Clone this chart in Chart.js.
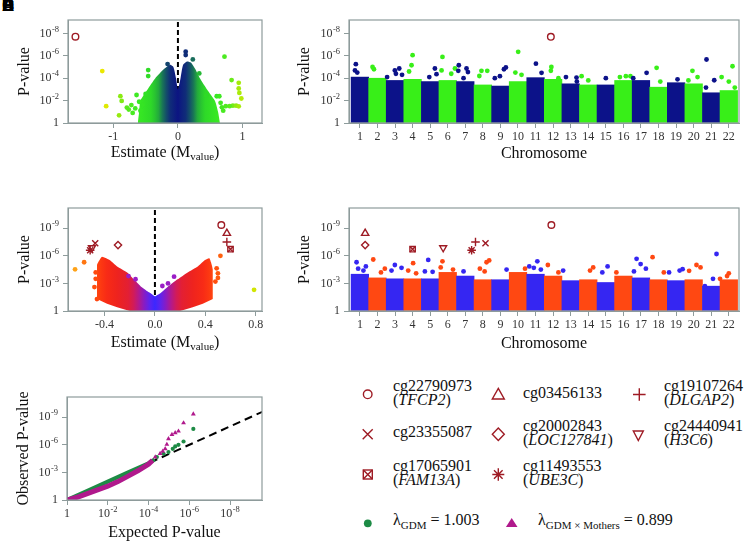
<!DOCTYPE html>
<html>
<head>
<meta charset="utf-8">
<title>GDM EWAS figure</title>
<script src="https://cdn.jsdelivr.net/npm/chart.js@4.4.1/dist/chart.umd.min.js"></script>
<style>
  html, body { margin:0; padding:0; background:#fff; }
  body { width:745px; height:542px; position:relative; overflow:hidden; font-family:"Liberation Serif","Times New Roman",serif; color:#111; }
  canvas { position:absolute; }
  .t { position:absolute; font-size:16px; line-height:14.5px; white-space:nowrap; color:#111; }
  .s { font-size:11px; position:relative; top:4px; }
  .tag { position:absolute; left:2px; top:-4px; font:bold 17px "Liberation Sans",Arial,sans-serif; color:#000; }
</style>
</head>
<body>
<div class="tag">A</div><div class="tag">B</div><div class="tag">C</div><div class="tag">D</div><div class="tag">E</div>
<canvas id="cA" width="275" height="175" style="left:0;top:0;width:275px;height:175px"></canvas>
<canvas id="cB" width="465" height="175" style="left:280px;top:0;width:465px;height:175px"></canvas>
<canvas id="cC" width="275" height="175" style="left:0;top:180px;width:275px;height:175px"></canvas>
<canvas id="cD" width="465" height="175" style="left:280px;top:180px;width:465px;height:175px"></canvas>
<canvas id="cE" width="275" height="182" style="left:0;top:360px;width:275px;height:182px"></canvas>

<svg style="position:absolute;left:290px;top:360px" width="455" height="182">
  <g stroke="#9e1b24" fill="none" stroke-width="1.4">
    <circle cx="77.7" cy="34.3" r="4.3"/>
    <polygon points="208.3,28.4 214.3,39 202.3,39"/>
    <path d="M343 34.5H355.6M349.3 28.2V40.8"/>
    <path d="M72.7 69.3L82.7 79.3M82.7 69.3L72.7 79.3"/>
    <polygon points="208.3,68 214.3,74.3 208.3,80.6 202.3,74.3"/>
    <polygon points="343.3,71 353.3,71 348.3,80.6"/>
    <rect x="73.3" y="110" width="9" height="9"/>
    <path d="M73.3 110L82.3 119M82.3 110L73.3 119"/>
    <path d="M202.3 114.5H214.3M208.3 108.3V120.7M204 110.2L212.6 118.8M212.6 110.2L204 118.8"/>
  </g>
  <circle cx="77.8" cy="163.3" r="3.9" fill="#1d8b45"/>
  <polygon points="221.7,158 227.5,167 215.9,167" fill="#b0198c"/>
</svg>

<div class="t" style="left:393px;top:378.7px">cg22790973<br>(<i>TFCP2</i>)</div>
<div class="t" style="left:523px;top:386.3px">cg03456133</div>
<div class="t" style="left:664px;top:378.7px">cg19107264<br>(<i>DLGAP2</i>)</div>
<div class="t" style="left:393px;top:425.3px">cg23355087</div>
<div class="t" style="left:523px;top:418.7px">cg20002843<br>(<i>LOC127841</i>)</div>
<div class="t" style="left:664px;top:418.7px">cg24440941<br>(<i>H3C6</i>)</div>
<div class="t" style="left:393px;top:458.7px">cg17065901<br>(<i>FAM13A</i>)</div>
<div class="t" style="left:523px;top:458.7px">cg11493553<br>(<i>UBE3C</i>)</div>
<div class="t" style="left:393px;top:513px">λ<span class="s">GDM</span> = 1.003</div>
<div class="t" style="left:538px;top:513px">λ<span class="s">GDM × Mothers</span> = 0.899</div>

<script>
// ================= DATA =================
// values on y are -log10(P)

// ---- Panel A: volcano, GDM
const aCloudEst  = [-0.62,-0.60,-0.58,-0.47,-0.35,-0.22,-0.12,-0.07,-0.03,0.00,0.04,0.08,0.14,0.20,0.27,0.34,0.45,0.57,0.62,0.65];
const aCloudLogP = [0.00,1.00,2.00,3.00,4.00,4.80,5.20,5.00,4.00,3.00,4.00,5.20,5.50,5.40,4.80,4.00,3.00,2.00,1.00,0.00];
const aOutEst  = [-1.17,-1.11,-0.89,-0.87,-0.79,-0.76,-0.91,-0.72,-0.70,-0.66,-0.64,-0.60,-0.58,-0.46,-0.46,-0.50,-0.55,-0.16,0.12,0.12,0.23,0.33,0.72,0.83,0.94,0.94,0.95,0.98,0.60,0.64,0.44,0.85,0.80,0.74,0.68,0.70,0.90,0.66,0.94];
const aOutLogP = [4.64,1.50,2.40,1.97,1.38,1.20,0.69,1.60,0.90,1.30,2.50,1.90,1.10,4.73,4.19,2.60,1.60,5.26,6.37,6.07,5.68,4.43,5.92,3.83,3.59,3.08,2.69,2.19,2.39,2.39,2.48,1.55,1.50,1.50,1.40,1.10,1.55,1.80,1.49];
const aHitEst  = [-1.585];
const aHitLogP = [7.71];

// ---- Panel B: Manhattan, GDM
const chromosomes = [1,2,3,4,5,6,7,8,9,10,11,12,13,14,15,16,17,18,19,20,21,22];
const bDenseTop = [4.1,4.0,3.8,3.9,3.7,3.8,3.7,3.4,3.3,3.7,4.05,3.9,3.5,3.4,3.4,3.8,3.8,3.2,3.6,3.5,2.7,2.9];
const bOutPos  = [0.77,0.72,0.85,1.72,1.80,2.55,2.99,3.24,3.05,3.40,4.00,3.94,3.80,5.27,5.36,4.95,5.70,5.65,6.41,6.20,6.63,6.60,7.07,7.15,6.90,7.92,8.25,7.80,8.68,8.97,9.20,9.31,10.01,9.85,10.20,11.02,11.34,11.90,11.87,12.30,12.73,13.33,13.35,13.62,14.00,15.00,15.80,16.14,16.40,16.56,17.32,17.89,18.10,19.08,19.93,20.22,19.70,20.73,20.70,21.17,21.59,22.21,22.00,22.34];
const bOutLogP = [5.25,4.70,4.50,5.00,4.80,4.10,4.70,4.87,4.40,4.30,6.06,5.16,4.60,4.87,4.36,4.10,5.90,4.70,4.87,4.40,5.16,4.66,4.87,4.55,4.00,4.66,4.66,4.20,4.00,4.18,4.80,4.96,6.36,4.50,4.30,5.30,4.48,5.00,4.66,4.00,4.10,4.06,3.70,4.18,3.80,4.00,4.10,4.18,4.18,4.00,4.48,4.93,3.70,3.90,4.66,4.10,3.80,5.67,3.16,3.82,4.10,5.07,3.70,3.16];
const bHitPos  = [11.87];
const bHitLogP = [7.70];

// ---- Panel C: volcano, GDM x Mothers (upper and lower edge of the dense cloud)
const cUpperEst  = [-0.46,-0.46,-0.45,-0.42,-0.354,-0.30,-0.22,-0.167,-0.114,-0.06,-0.02,0.00,0.046,0.10,0.18,0.26,0.34,0.392,0.432,0.445,0.46,0.46];
const cUpperLogP = [1.30,5.00,5.30,5.90,5.50,4.85,4.20,3.44,2.70,2.15,1.80,1.60,1.96,2.60,3.44,4.20,4.85,5.50,5.74,5.30,4.50,1.30];
const cLowerEst  = [-0.46,-0.38,-0.30,-0.20,0.20,0.30,0.38,0.46];
const cLowerLogP = [1.30,0.80,0.40,0.00,0.00,0.40,0.80,1.30];
const cOutEst  = [-0.634,-0.562,-0.21,-0.154,0.104,0.152,0.059,0.52,0.49,0.50,0.50,0.48,0.787,-0.47,-0.47,-0.48,-0.46];
const cOutLogP = [4.53,5.30,3.80,3.45,3.00,3.73,2.72,6.00,4.64,4.10,3.60,3.20,2.30,4.20,3.50,2.60,1.30];

// ---- Highlighted CpGs (panels C and D)
const hitNames = ['cg22790973','cg03456133','cg19107264','cg23355087','cg20002843','cg24440941','cg17065901','cg11493553'];
const hitEst   = [0.527, 0.571, 0.571, -0.474, -0.293, -0.500, 0.600, -0.514];
const hitPos   = [11.90, 1.30, 7.58, 8.15, 1.30, 5.74, 4.00, 7.36];
const hitLogP  = [9.35, 8.45, 7.50, 7.36, 7.17, 6.88, 6.72, 6.60];

// ---- Panel D: Manhattan, GDM x Mothers
const dDenseTop = [4.0,3.6,3.5,3.5,3.5,4.2,3.8,3.4,3.4,4.2,4.0,3.8,3.3,3.4,3.1,3.8,3.6,3.4,3.3,3.4,2.7,3.4];
const dOutPos  = [0.81,1.34,0.90,1.20,1.76,2.42,2.20,2.99,3.37,2.80,4.03,3.75,4.20,4.89,5.14,4.70,5.70,5.60,6.30,6.90,7.83,8.21,8.36,8.10,9.35,10.64,10.40,11.10,10.90,11.70,11.30,12.57,12.30,14.28,14.10,15.10,14.80,15.60,16.75,16.98,17.28,16.60,17.66,18.30,18.60,19.37,19.20,19.74,20.16,20.39,21.30,20.64,21.10,21.50,22.00,21.90];
const dOutLogP = [5.30,4.85,4.60,4.40,5.60,4.60,4.20,5.00,4.70,4.40,5.20,4.40,4.10,5.55,4.26,4.30,5.40,4.74,4.50,4.30,4.60,5.30,5.50,4.30,4.50,4.85,4.60,5.40,4.70,5.00,4.50,4.40,4.20,4.74,4.40,4.85,4.20,4.20,5.67,5.10,4.60,4.30,5.85,4.20,4.20,4.55,4.40,4.37,5.00,4.74,6.20,2.70,3.50,3.50,4.10,3.80];

// ---- Panel E: QQ plot (-log10 expected, -log10 observed)
const qqGdmExp     = [0,1,2,3,4,4.3];
const qqGdmObs     = [0,1,2,3,4,4.4];
const qqGdmTailExp = [4.41,4.74,4.98,5.19,5.31,5.47,5.72,6.20];
const qqGdmTailObs = [4.67,5.03,5.21,5.57,5.83,6.00,6.36,7.73];
const qqIntExp     = [0,0.5,1,1.5,2,2.5,3,3.5,4,4.2];
const qqIntObs     = [0,0.3,0.7,1.1,1.5,2.0,2.6,3.2,3.9,4.3];
const qqIntTailExp = [4.33,4.57,4.70,4.82,4.90,4.98,5.15,5.31,5.47,5.72,6.20];
const qqIntTailObs = [4.67,5.04,5.30,5.57,6.04,6.65,7.12,7.30,7.48,8.38,9.35];
const qqDiag       = [0, 9.6];

// ---- Tick values
const ticksLogAB  = [0,2,4,6,8];
const ticksLogCDE = [0,3,6,9];
const ticksEstA   = [-1,0,1];
const ticksEstC   = [-0.4,0,0.4,0.8];
const ticksExpE   = [0,2,4,6,8];

// ================= STYLE / HELPERS =================
const SERIF = '"Liberation Serif", "Times New Roman", serif';
const AXIS_GREY = '#8e9c9c';
const TICK_TEXT = '#333';
const HIT = '#9e1b24';
const NAVY = '#0c1289', LIME = '#38ef18', BLUE = '#3526f2', ORANGE = '#ff4812';
const QQ_GREEN = '#1d8b45', QQ_MAG = '#b0198c';

const pts = (xs, ys) => xs.map((x, i) => ({x, y: ys[i]}));
const rgb = c => `rgb(${c.map(Math.round).join(',')})`;
function cmap(stops) {
  return v => {
    const t = Math.abs(v);
    if (t <= stops[0][0]) return rgb(stops[0][1]);
    for (let i = 1; i < stops.length; i++) {
      if (t <= stops[i][0]) {
        const [p0, c0] = stops[i-1], [p1, c1] = stops[i];
        const f = (t - p0) / (p1 - p0);
        return rgb(c0.map((c, k) => c + (c1[k] - c) * f));
      }
    }
    return rgb(stops[stops.length-1][1]);
  };
}
const cmapA = cmap([[0,[12,20,130]],[0.12,[16,45,120]],[0.22,[22,100,95]],[0.30,[35,170,60]],[0.40,[45,215,40]],[0.60,[55,232,35]],[0.80,[90,235,30]],[0.95,[170,235,10]],[1.15,[235,232,0]]]);
const cmapC = cmap([[0,[60,40,255]],[0.05,[100,35,235]],[0.10,[150,25,180]],[0.15,[200,25,110]],[0.20,[225,30,55]],[0.30,[238,35,30]],[0.40,[250,45,20]],[0.46,[255,70,15]],[0.55,[255,110,15]],[0.63,[255,160,25]],[0.80,[205,235,0]]]);
// purple for the isolated points close to zero effect, otherwise the colour map
const cPointColour = (e, lp) => (Math.abs(e) < 0.25 && lp > 2.5) ? '#9a1ec6' : cmapC(e);

function gradientFill(map, span) {
  return c => {
    const ch = c.chart, xs = ch.scales.x;
    if (!ch.chartArea || !xs) return 'rgba(0,0,0,0)';
    const x0 = xs.getPixelForValue(-span), x1 = xs.getPixelForValue(span);
    const g = ch.ctx.createLinearGradient(x0, 0, x1, 0);
    for (let k = 0; k <= 40; k++) g.addColorStop(k / 40, map(-span + 2 * span * k / 40));
    return g;
  };
}

function drawSup(ctx, base, sup, x, y, align) {
  ctx.font = `12px ${SERIF}`; const wb = ctx.measureText(base).width;
  ctx.font = `8.5px ${SERIF}`; const ws = sup ? ctx.measureText(sup).width + 0.5 : 0;
  const w = wb + ws;
  const x0 = align === 'right' ? x - w : align === 'center' ? x - w / 2 : x;
  ctx.textAlign = 'left'; ctx.textBaseline = 'middle';
  ctx.font = `12px ${SERIF}`; ctx.fillText(base, x0, y);
  if (sup) { ctx.font = `8.5px ${SERIF}`; ctx.fillText(sup, x0 + wb + 0.5, y - 4); }
}
const lab = v => { const n = Math.round(v); return n === 0 ? ['1', ''] : ['10', '-' + n]; };

const expTicks = {
  id: 'expTicks',
  afterDraw(chart, args, opts) {
    const ctx = chart.ctx; ctx.save(); ctx.fillStyle = TICK_TEXT;
    if (opts && opts.y) {
      const s = chart.scales.y;
      s.ticks.forEach(t => { const [b, p] = lab(t.value); drawSup(ctx, b, p, s.right - 9, s.getPixelForValue(t.value), 'right'); });
    }
    if (opts && opts.x) {
      const s = chart.scales.x;
      s.ticks.forEach(t => { const [b, p] = lab(t.value); drawSup(ctx, b, p, s.getPixelForValue(t.value), chart.chartArea.bottom + 14, 'center'); });
    }
    ctx.restore();
  }
};
const frame = {
  id: 'frame',
  afterDatasetsDraw(chart) {
    const {ctx, chartArea: a} = chart;
    ctx.save(); ctx.strokeStyle = AXIS_GREY; ctx.lineWidth = 1.2;
    ctx.strokeRect(a.left, a.top, a.right - a.left, a.bottom - a.top);
    ctx.restore();
  }
};
const subTitle = {
  id: 'subTitle',
  afterDraw(chart, args, opts) {
    if (!opts || !opts.parts) return;
    const ctx = chart.ctx, a = chart.chartArea;
    ctx.save(); ctx.fillStyle = '#111'; ctx.textBaseline = 'middle'; ctx.textAlign = 'left';
    let w = 0;
    opts.parts.forEach(p => { ctx.font = `${p[1]}px ${SERIF}`; w += ctx.measureText(p[0]).width; });
    let x = (a.left + a.right) / 2 - w / 2;
    opts.parts.forEach(p => { ctx.font = `${p[1]}px ${SERIF}`; ctx.fillText(p[0], x, opts.y + p[2]); x += ctx.measureText(p[0]).width; });
    ctx.restore();
  }
};
Chart.register(expTicks, frame, subTitle);

function scales(o) {
  const grid = {display:true, drawOnChartArea:false, drawTicks:true, tickLength:5, color:AXIS_GREY, offset:false, lineWidth:1};
  const border = {display:true, color:AXIS_GREY, width:1};
  return {
    x: {
      type:'linear', position:'bottom', min:o.xmin, max:o.xmax, offset:false,
      afterBuildTicks: s => { s.ticks = o.xticks.map(v => ({value:v})); },
      ticks: {display:!o.xSup, font:{family:SERIF, size:12}, color:TICK_TEXT, padding:2, maxRotation:0, autoSkip:false, callback: o.xfmt || (v => String(v))},
      grid, border,
      title: {display:!!o.xtitle, text:o.xtitle || '', font:{family:SERIF, size:16}, color:'#111', padding:{top:0, bottom:o.xtpad || 0}},
      afterFit: s => { s.height = o.xh; }
    },
    y: {
      type:'linear', position:'left', min:0, max:o.ymax,
      afterBuildTicks: s => { s.ticks = o.yticks.map(v => ({value:v})); },
      ticks: {display:false},
      grid, border,
      title: {display:true, text:o.ytitle, font:{family:SERIF, size:16}, color:'#111', padding:{top:o.ytpad, bottom:0}},
      afterFit: s => { s.width = o.yw; }
    }
  };
}
function baseOptions(o, plugins) {
  return {
    responsive:false, animation:false, events:[],
    layout:{padding:{left:0, top:o.padTop, right:o.padRight, bottom:0}},
    plugins: Object.assign({legend:{display:false}, tooltip:{enabled:false}}, plugins),
    scales: scales(o)
  };
}
const dashedLine = (data, dash) => ({type:'line', data, borderColor:'#000', borderWidth:2, borderDash:dash, pointRadius:0, fill:false, order:20});

// hit marker styles (same order as hitNames)
const hitStyles = [
  {pointStyle:'circle', radius:3.3},
  {pointStyle:'triangle', radius:4.2},
  {pointStyle:'cross', radius:4.3},
  {pointStyle:'crossRot', radius:4.3},
  {pointStyle:'rectRot', radius:3.6},
  {pointStyle:'triangle', radius:4.0, rotation:180},
  {pointStyle:'rect', radius:3.8, extra:'crossRot'},
  {pointStyle:'star', radius:4.3}
];
function hitDatasets(xs) {
  const out = [];
  hitNames.forEach((n, i) => {
    const st = hitStyles[i];
    const p = [{x: xs[i], y: hitLogP[i]}];
    out.push({type:'scatter', label:n, data:p, pointStyle:st.pointStyle, pointRadius:st.radius, pointRotation:st.rotation || 0,
      pointBorderColor:HIT, pointBackgroundColor:'rgba(0,0,0,0)', pointBorderWidth:1.4, order:0});
    if (st.extra) out.push({type:'scatter', label:n + ' x', data:p, pointStyle:st.extra, pointRadius:st.radius,
      pointBorderColor:HIT, pointBackgroundColor:'rgba(0,0,0,0)', pointBorderWidth:1.4, order:0});
  });
  return out;
}

// ================= PANEL A =================
const oA = {padTop:20, padRight:13, yw:68, xh:52, xmin:-1.7, xmax:1.3, ymax:9.2,
  xticks:ticksEstA, yticks:ticksLogAB, ytitle:'P-value', ytpad:15.4};
new Chart(document.getElementById('cA'), {
  type:'scatter',
  data:{datasets:[
    dashedLine([{x:0,y:0},{x:0,y:9.2}], [5,3]),
    {type:'line', data:pts(aCloudEst, aCloudLogP), borderWidth:0, pointRadius:0, fill:'origin', tension:0.2,
      backgroundColor: gradientFill(cmapA, 1.2), order:10},
    {type:'scatter', data:pts(aOutEst, aOutLogP), pointRadius:2.4, pointBorderWidth:0,
      pointBackgroundColor: aOutEst.map(cmapA), order:5},
    {type:'scatter', data:pts(aHitEst, aHitLogP), pointStyle:'circle', pointRadius:3.3, pointBorderWidth:1.4,
      pointBorderColor:HIT, pointBackgroundColor:'rgba(0,0,0,0)', order:0}
  ]},
  options: baseOptions(oA, {expTicks:{y:true}, subTitle:{y:153, parts:[['Estimate (M',16,0],['value',11,4],[')',16,0]]}})
});

// ================= PANEL B =================
const oB = {padTop:20, padRight:6, yw:69, xh:52, xmin:0.38, xmax:22.58, ymax:9.2,
  xticks:chromosomes, yticks:ticksLogAB, ytitle:'P-value', ytpad:15.4, xtitle:'Chromosome', xtpad:11.4};
new Chart(document.getElementById('cB'), {
  type:'scatter',
  data:{datasets:[
    {type:'bar', data:pts(chromosomes, bDenseTop), backgroundColor:chromosomes.map(c => c % 2 ? NAVY : LIME),
      borderWidth:0, barPercentage:1.0, categoryPercentage:1.0, order:10},
    {type:'scatter', data:pts(bOutPos, bOutLogP), pointRadius:2.4, pointBorderWidth:0,
      pointBackgroundColor:bOutPos.map(p => Math.round(p) % 2 ? NAVY : LIME), order:5},
    {type:'scatter', data:pts(bHitPos, bHitLogP), pointStyle:'circle', pointRadius:3.3, pointBorderWidth:1.4,
      pointBorderColor:HIT, pointBackgroundColor:'rgba(0,0,0,0)', order:0}
  ]},
  options: baseOptions(oB, {expTicks:{y:true}})
});

// ================= PANEL C =================
const oC = {padTop:28, padRight:13, yw:68, xh:44, xmin:-0.69, xmax:0.85, ymax:11.2,
  xticks:ticksEstC, yticks:ticksLogCDE, ytitle:'P-value', ytpad:15.4, xfmt: v => Number(v).toFixed(1)};
new Chart(document.getElementById('cC'), {
  type:'scatter',
  data:{datasets:[
    dashedLine([{x:0,y:0},{x:0,y:11.2}], [5,3]),
    {type:'line', data:pts(cUpperEst, cUpperLogP), borderWidth:0, pointRadius:0, fill:'+1', tension:0.15,
      backgroundColor: gradientFill(cmapC, 0.85), order:10},
    {type:'line', data:pts(cLowerEst, cLowerLogP), borderWidth:0, pointRadius:0, fill:false, tension:0, order:11},
    {type:'scatter', data:pts(cOutEst, cOutLogP), pointRadius:2.4, pointBorderWidth:0,
      pointBackgroundColor: cOutEst.map((e, i) => cPointColour(e, cOutLogP[i])), order:5},
    ...hitDatasets(hitEst)
  ]},
  options: baseOptions(oC, {expTicks:{y:true}, subTitle:{y:163, parts:[['Estimate (M',16,0],['value',11,4],[')',16,0]]}})
});

// ================= PANEL D =================
const oD = {padTop:28, padRight:6, yw:69, xh:44, xmin:0.38, xmax:22.58, ymax:11.2,
  xticks:chromosomes, yticks:ticksLogCDE, ytitle:'P-value', ytpad:15.4, xtitle:'Chromosome', xtpad:2.1};
new Chart(document.getElementById('cD'), {
  type:'scatter',
  data:{datasets:[
    {type:'bar', data:pts(chromosomes, dDenseTop), backgroundColor:chromosomes.map(c => c % 2 ? BLUE : ORANGE),
      borderWidth:0, barPercentage:1.0, categoryPercentage:1.0, order:10},
    {type:'scatter', data:pts(dOutPos, dOutLogP), pointRadius:2.4, pointBorderWidth:0,
      pointBackgroundColor:dOutPos.map(p => Math.round(p) % 2 ? BLUE : ORANGE), order:5},
    ...hitDatasets(hitPos)
  ]},
  options: baseOptions(oD, {expTicks:{y:true}})
});

// ================= PANEL E =================
const oE = {padTop:37, padRight:13, yw:67, xh:42, xmin:0, xmax:9.57, ymax:11.2, xSup:true,
  xticks:ticksExpE, yticks:ticksLogCDE, ytitle:'Observed P-value', ytpad:14, xtitle:'Expected P-value', xtpad:0};
new Chart(document.getElementById('cE'), {
  type:'scatter',
  data:{datasets:[
    dashedLine(pts(qqDiag, qqDiag), [8,5]),
    {type:'line', data:pts(qqGdmExp, qqGdmObs), borderColor:QQ_GREEN, borderWidth:4, pointRadius:0, fill:false, order:9},
    {type:'line', data:pts(qqIntExp, qqIntObs), borderColor:QQ_MAG, borderWidth:5, pointRadius:0, fill:false, order:8},
    {type:'scatter', data:pts(qqGdmTailExp, qqGdmTailObs), pointRadius:2.1, pointBorderWidth:0, pointBackgroundColor:QQ_GREEN, order:3},
    {type:'scatter', data:pts(qqIntTailExp, qqIntTailObs), pointStyle:'triangle', pointRadius:2.8, pointBorderWidth:0, pointBackgroundColor:QQ_MAG, order:2}
  ]},
  options: baseOptions(oE, {expTicks:{y:true, x:true}})
});
</script>
</body>
</html>
